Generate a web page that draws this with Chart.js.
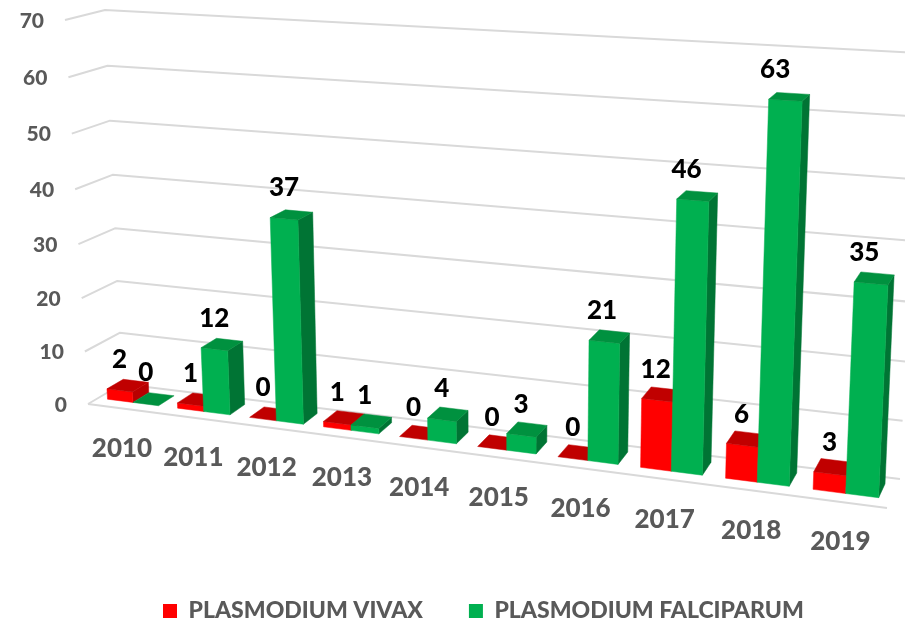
<!DOCTYPE html>
<html><head><meta charset="utf-8">
<style>html,body{margin:0;padding:0;background:#fff}#w{width:905px;height:620px}</style>
<script src="https://cdn.jsdelivr.net/npm/chart.js@4"></script>
</head><body><div id="w"><canvas id="c"></canvas></div>
<script>
const categories = ['2010','2011','2012','2013','2014','2015','2016','2017','2018','2019'];
const vivaxValues = [2,1,0,1,0,0,0,12,6,3];
const falciparumValues = [0,12,37,1,4,3,21,46,63,35];
const seriesNames = ['PLASMODIUM VIVAX','PLASMODIUM FALCIPARUM'];
const FONT = 'Lato';
const corners = {
  fbl:[88,404], ftl:[65,20], fbr:[887,508], ftr:[907,66],
  bbl:[122,384], btl:[105,10], bbr:[900,479], btr:[919,53]
};
const warp = 0.13, vWarp = 0.05, wFront = 0.3, wBack = 0.78;
const shade = {
  '#ff0000':{top:'#c00000',side:'#b80000'},
  '#00b050':{top:'#00913f',side:'#007434'}
};
function lerp(a,b,t){return [a[0]+(b[0]-a[0])*t,a[1]+(b[1]-a[1])*t];}
function proj(u,v,w){
  const U=(1-warp)*u/(1-warp*u), V=v-vWarp*v*(1-v), c=corners;
  const fb=lerp(c.fbl,c.fbr,U), ft=lerp(c.ftl,c.ftr,U), bb=lerp(c.bbl,c.bbr,U), bt=lerp(c.btl,c.btr,U);
  return lerp(lerp(fb,ft,V),lerp(bb,bt,V),w);
}
function quad(ctx,pts,col){
  ctx.beginPath();pts.forEach((p,i)=>i?ctx.lineTo(p[0],p[1]):ctx.moveTo(p[0],p[1]));ctx.closePath();
  ctx.fillStyle=col;ctx.strokeStyle=col;ctx.lineWidth=0.5;ctx.fill();ctx.stroke();
}
const perspective = {
  id:'perspective',
  afterLayout(chart){
    const lg=chart.legend;
    lg.left=163-lg.options.labels.padding;
    lg.top=611-lg.options.labels.padding-11.5;
  },
  beforeDatasetsDraw(chart){
    const ctx=chart.ctx, a=chart.chartArea, W=a.right-a.left, H=a.bottom-a.top;
    const ys=chart.scales.y, xs=chart.scales.x;
    const nu=px=>(px-a.left)/W, nv=py=>(a.bottom-py)/H;
    ctx.save();
    ctx.strokeStyle='#d9d9d9';ctx.lineWidth=2;ctx.lineJoin='round';
    ys.ticks.forEach(t=>{
      const v=nv(ys.getPixelForValue(t.value));
      const p0=proj(0,v,0),p1=proj(0,v,1),p2=proj(1,v,1);
      ctx.beginPath();ctx.moveTo(p0[0],p0[1]);ctx.lineTo(p1[0],p1[1]);ctx.lineTo(p2[0],p2[1]);ctx.stroke();
      ctx.fillStyle='#595959';ctx.font='900 21px '+FONT;ctx.textAlign='right';ctx.textBaseline='middle';
      ctx.fillText(t.label,p0[0]-21,p0[1]+1);
    });
    const f0=proj(0,0,0),f1=proj(1,0,0);
    ctx.beginPath();ctx.moveTo(f0[0],f0[1]);ctx.lineTo(f1[0],f1[1]);ctx.stroke();
    ctx.fillStyle='#595959';ctx.font='900 26px '+FONT;ctx.textAlign='center';ctx.textBaseline='middle';
    categories.forEach((c,i)=>{
      const p=proj(nu(xs.getPixelForValue(i)),0,0);
      ctx.fillText(c,p[0]-1,p[1]+40);
    });
    const metas=[chart.getDatasetMeta(0),chart.getDatasetMeta(1)];
    const labels=[];
    categories.forEach((c,i)=>{
      metas.forEach((m,d)=>{
        const el=m.data[i], col=chart.data.datasets[d].backgroundColor, s=shade[col];
        const u0=nu(el.x-el.width/2),u1=nu(el.x+el.width/2),v=nv(el.y);
        const fl0=proj(u0,0,wFront),fr0=proj(u1,0,wFront),br0=proj(u1,0,wBack);
        const fl1=proj(u0,v,wFront),fr1=proj(u1,v,wFront),br1=proj(u1,v,wBack),bl1=proj(u0,v,wBack);
        if(v>0){
          quad(ctx,[fr0,br0,br1,fr1],s.side);
          quad(ctx,[fl0,fr0,fr1,fl1],col);
        }
        quad(ctx,[fl1,fr1,br1,bl1],s.top);
        const uc=(u0+u1)/2, a0=proj(uc,v,wFront);
        labels.push([chart.data.datasets[d].data[i],a0[0]-20*v*Math.max(0,uc-0.3),a0[1]-31]);
      });
    });
    ctx.fillStyle='#000';ctx.font='900 26px '+FONT;ctx.textAlign='center';ctx.textBaseline='middle';
    labels.forEach(l=>ctx.fillText(String(l[0]),l[1],l[2]));
    ctx.restore();
    return false;
  }
};
new Chart(document.getElementById('c'),{
  type:'bar',
  data:{labels:categories,datasets:[
    {label:seriesNames[0],data:vivaxValues,backgroundColor:'#ff0000',borderWidth:0,categoryPercentage:0.73,barPercentage:1},
    {label:seriesNames[1],data:falciparumValues,backgroundColor:'#00b050',borderWidth:0,categoryPercentage:0.73,barPercentage:1}
  ]},
  options:{
    responsive:true,maintainAspectRatio:false,animation:false,
    layout:{padding:0},
    scales:{
      x:{display:false},
      y:{display:false,min:0,max:70,ticks:{stepSize:10}}
    },
    plugins:{
      tooltip:{enabled:false},
      legend:{display:true,position:'bottom',align:'start',
        labels:{boxWidth:14,boxHeight:14,padding:46,color:'#595959',font:{family:FONT,weight:'900',size:23}}}
    }
  },
  plugins:[perspective]
});
</script></body></html>
